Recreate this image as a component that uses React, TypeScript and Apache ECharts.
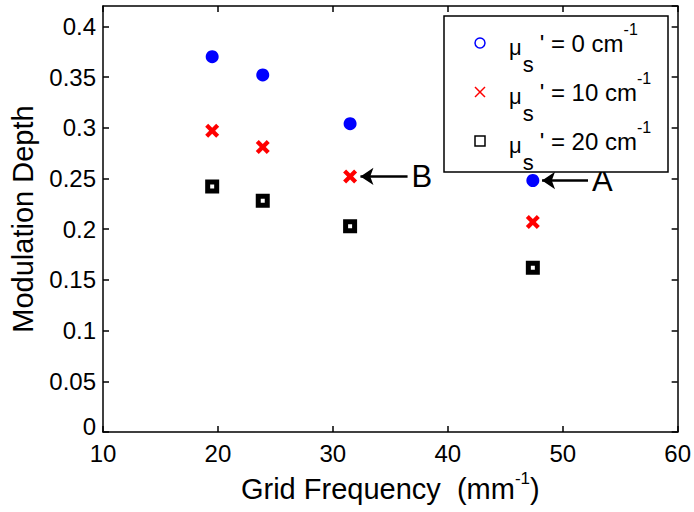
import React, { useEffect, useRef } from 'react';
import * as echarts from 'echarts';

const xFreq = [19.5, 23.9, 31.5, 47.4];
const mu0 = [0.370, 0.352, 0.304, 0.248];
const mu10 = [0.297, 0.281, 0.252, 0.207];
const mu20 = [0.242, 0.228, 0.203, 0.162];
const legendValues = ['0', '10', '20'];
const arrowB = [[36.5, 0.252], [32.4, 0.252]];
const arrowA = [[52.2, 0.248], [48.2, 0.248]];

const FONT = 'Liberation Sans, Arial, sans-serif';
const CROSS = 'path://M0,3L3,0L7,4L11,0L14,3L10,7L14,11L11,14L7,10L3,14L0,11L4,7Z';

function pairs(xs: number[], ys: number[]) {
  return xs.map((x, i) => [x, ys[i]]);
}

function arrowLine(pts: number[][], label: string) {
  return {
    silent: true,
    symbol: ['none', 'arrow'],
    symbolSize: 13,
    lineStyle: { color: '#000', width: 2.5, type: 'solid', opacity: 1 },
    label: {
      show: true,
      position: 'start',
      formatter: label,
      fontSize: 31,
      fontFamily: FONT,
      color: '#000',
      distance: 4,
    },
    data: [[{ coord: pts[0] }, { coord: pts[1] }]],
  };
}

const legendRich = {
  mu: { fontSize: 22, fontFamily: FONT, color: '#000', lineHeight: 24, padding: [8, 0, 0, 0] },
  sub: { fontSize: 22, fontFamily: FONT, color: '#000', lineHeight: 22, padding: [42, 6, 0, 1] },
  base: { fontSize: 24, fontFamily: FONT, color: '#000', lineHeight: 26 },
  sup: { fontSize: 16, fontFamily: FONT, color: '#000', lineHeight: 16, padding: [0, 0, 28, 0] },
};

export default function App() {
  const ref = useRef<HTMLDivElement>(null);
  useEffect(() => {
    if (!ref.current) return;
    const chart = echarts.init(ref.current, null, { renderer: 'svg' });
    const axisCommon = {
      axisLine: { show: true, onZero: false, lineStyle: { color: '#000', width: 1.5 } },
      axisTick: { show: true, inside: true, length: 6, lineStyle: { color: '#000', width: 1.5 } },
      splitLine: { show: false },
    };
    const rowY = [43, 92, 141];
    const legendGraphics: any[] = [
      {
        type: 'rect',
        shape: { x: 444, y: 16, width: 224, height: 156 },
        style: { fill: '#fff', stroke: '#000', lineWidth: 1.5 },
        z: 10,
      },
      {
        type: 'circle',
        shape: { cx: 480, cy: rowY[0], r: 5 },
        style: { fill: 'none', stroke: '#0000ff', lineWidth: 1.5 },
        z: 11,
      },
      {
        type: 'line',
        shape: { x1: 475, y1: rowY[1] - 5, x2: 485, y2: rowY[1] + 5 },
        style: { stroke: '#ff0000', lineWidth: 1.5 },
        z: 11,
      },
      {
        type: 'line',
        shape: { x1: 475, y1: rowY[1] + 5, x2: 485, y2: rowY[1] - 5 },
        style: { stroke: '#ff0000', lineWidth: 1.5 },
        z: 11,
      },
      {
        type: 'rect',
        shape: { x: 475, y: rowY[2] - 5, width: 10, height: 10 },
        style: { fill: 'none', stroke: '#000', lineWidth: 1.5 },
        z: 11,
      },
      ...legendValues.map((v, i) => ({
        type: 'text',
        x: 509,
        y: rowY[i],
        z: 11,
        style: {
          text: `{mu|μ}{sub|s}{base|' = ${v} cm}{sup|-1}`,
          verticalAlign: 'middle',
          align: 'left',
          rich: legendRich,
        },
      })),
    ];
    chart.setOption({
      animation: false,
      backgroundColor: '#fff',
      grid: { left: 100, right: 14, top: 6, bottom: 71 },
      xAxis: [
        {
          type: 'value',
          position: 'bottom',
          min: 10,
          max: 60,
          interval: 10,
          ...axisCommon,
          axisLabel: { fontSize: 24, fontFamily: FONT, color: '#000', margin: 12, lineHeight: 18 },
          name: 'Grid Frequency  (mm{sup|-1})',
          nameLocation: 'middle',
          nameGap: 34,
          nameTextStyle: {
            fontSize: 29,
            fontFamily: FONT,
            color: '#000',
            verticalAlign: 'top',
            rich: {
              sup: { fontSize: 17, fontFamily: FONT, color: '#000', lineHeight: 17, padding: [0, 0, 20, 0] },
            },
          },
        },
        {
          type: 'value',
          position: 'top',
          min: 10,
          max: 60,
          interval: 10,
          ...axisCommon,
          axisLabel: { show: false },
        },
      ],
      yAxis: [
        {
          type: 'value',
          position: 'left',
          min: 0,
          max: 0.42,
          interval: 0.05,
          ...axisCommon,
          axisLabel: {
            fontSize: 24,
            fontFamily: FONT,
            color: '#000',
            margin: 7,
            lineHeight: 16,
            showMaxLabel: false,
            formatter: (v: number) => (v === 0 ? '{zero|0}' : String(v)),
            rich: {
              zero: { fontSize: 24, fontFamily: FONT, color: '#000', lineHeight: 16, padding: [0, 0, 12, 0] },
            },
          },
          name: 'Modulation Depth',
          nameLocation: 'middle',
          nameGap: 66,
          nameTextStyle: { fontSize: 29, fontFamily: FONT, color: '#000' },
        },
        {
          type: 'value',
          position: 'right',
          min: 0,
          max: 0.42,
          interval: 0.05,
          ...axisCommon,
          axisLabel: { show: false },
        },
      ],
      series: [
        {
          type: 'scatter',
          name: "μs' = 0",
          data: pairs(xFreq, mu0),
          symbol: 'circle',
          symbolSize: 13,
          itemStyle: { color: '#0000ff', opacity: 1 },
          markLine: arrowLine(arrowA, 'A'),
        },
        {
          type: 'scatter',
          name: "μs' = 10",
          data: pairs(xFreq, mu10),
          symbol: CROSS,
          symbolSize: 14,
          itemStyle: { color: '#ff0000', opacity: 1 },
          markLine: arrowLine(arrowB, 'B'),
        },
        {
          type: 'scatter',
          name: "μs' = 20",
          data: pairs(xFreq, mu20),
          symbol: 'rect',
          symbolSize: 9,
          itemStyle: { color: '#ffffff', borderColor: '#000', borderWidth: 5, opacity: 1 },
        },
      ],
      graphic: legendGraphics,
    });
    return () => chart.dispose();
  }, []);
  return (
    <div
      ref={ref}
      style={{ position: 'fixed', left: 0, top: 0, width: 694, height: 512, background: '#fff' }}
    />
  );
}
